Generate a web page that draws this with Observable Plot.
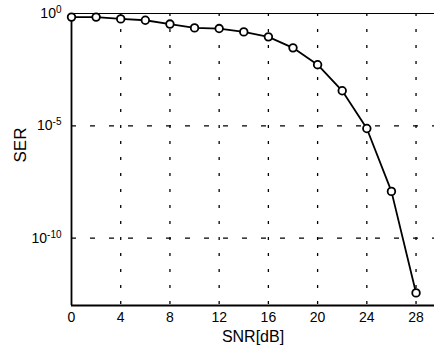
<!DOCTYPE html>
<html>
<head>
<meta charset="utf-8">
<script src="https://cdn.jsdelivr.net/npm/d3@7"></script>
<script src="https://cdn.jsdelivr.net/npm/@observablehq/plot@0.6"></script>
<style>
  html, body { margin: 0; padding: 0; background: #fff; }
  svg { display: block; }
</style>
</head>
<body>
<div id="chart"></div>
<script>
// Data
const snr = [0, 2, 4, 6, 8, 10, 12, 14, 16, 18, 20, 22, 24, 26, 28];
const serLog10 = [-0.16, -0.16, -0.24, -0.3, -0.47, -0.64, -0.67, -0.82, -1.04, -1.53, -2.28, -3.44, -5.12, -7.92, -12.44];
const xTicks = [0, 4, 8, 12, 16, 20, 24, 28];
const xGrid = [4, 8, 12, 16, 20, 24, 28];
const yTicks = [1e-10, 1e-5, 1];
const yTickExponents = ["-10", "-5", "0"];
const yGrid = [1e-10, 1e-5];
const xLabel = "SNR[dB]";
const yLabel = "SER";

const data = snr.map((s, i) => ({snr: s, ser: Math.pow(10, serLog10[i])}));
const font = "'Liberation Sans', Arial, sans-serif";

const chart = Plot.plot({
  width: 434,
  height: 352,
  marginLeft: 71,
  marginRight: 0,
  marginTop: 13,
  marginBottom: 47,
  style: {fontFamily: font, fontSize: "14px", color: "#000", background: "#fff"},
  x: {domain: [0, 29.5]},
  y: {type: "log", domain: [1e-13, 1]},
  marks: [
    Plot.ruleX(xGrid, {stroke: "#000", strokeWidth: 1.3, strokeDasharray: "3,13", strokeOpacity: 1}),
    Plot.ruleY(yGrid, {stroke: "#000", strokeWidth: 1.3, strokeDasharray: "5,14", strokeOpacity: 1}),
    Plot.ruleY([1], {stroke: "#000", strokeWidth: 1.2}),
    Plot.ruleY([1e-13], {stroke: "#000", strokeWidth: 1.8}),
    Plot.ruleX([0], {stroke: "#000", strokeWidth: 1.8}),
    Plot.axisX({ticks: xTicks, tickSize: 0, tickPadding: 7, label: null, fontSize: 14}),
    Plot.axisY({ticks: yTicks, tickSize: 0, tickPadding: 10, label: null, fontSize: 14,
      tickFormat: d => "10^" + yTickExponents[yTicks.indexOf(d)]}),
    Plot.line(data, {x: "snr", y: "ser", stroke: "#000", strokeWidth: 1.8}),
    Plot.dot(data, {x: "snr", y: "ser", r: 3.8, stroke: "#000", strokeWidth: 1.8, fill: "#fff"}),
    Plot.text([xLabel], {frameAnchor: "bottom", dy: 36, fontSize: 16, fill: "#000"}),
    Plot.text([yLabel], {frameAnchor: "left", dx: -51, dy: 3, rotate: -90, fontSize: 17, fill: "#000"})
  ]
});

// Render exponents as superscripts
d3.select(chart).selectAll("text").each(function() {
  const t = d3.select(this);
  const s = t.text();
  if (s.startsWith("10^")) {
    const exp = s.slice(3);
    t.text("10");
    t.append("tspan").attr("dy", "-0.5em").attr("font-size", "10px").text(exp);
  }
});
document.getElementById("chart").append(chart);
</script>
</body>
</html>
